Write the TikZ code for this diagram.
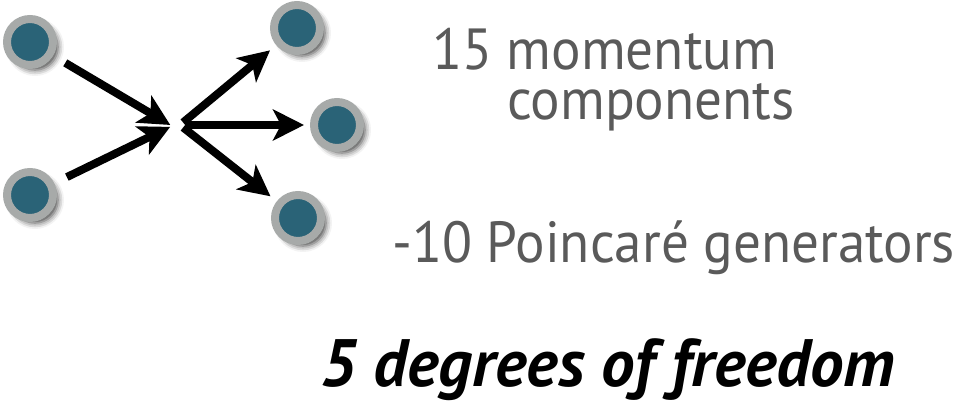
\documentclass[tikz,border=0pt]{standalone}
\usepackage{fontspec}
\setmainfont{PT Sans}
\newfontfamily\lblfont[FakeStretch=0.95]{PT Sans}
\usetikzlibrary{arrows.meta,shadows.blur}
\definecolor{teal1}{HTML}{2A6377}
\definecolor{ring}{HTML}{A7AAA9}
\definecolor{txt}{HTML}{5A5A5A}
\tikzset{
  particle/.style={circle, minimum size=46pt, inner sep=0pt, fill=teal1, draw=ring, line width=8pt,
    blur shadow={shadow xshift=5pt, shadow yshift=-5pt, shadow blur radius=6pt, shadow opacity=75}},
  leg/.style={line width=8pt, -{Stealth[length=31pt,width=31pt,inset=8pt]}},
  lbl/.style={text=txt, font=\lblfont\fontsize{58}{50}\selectfont, inner sep=0pt, anchor=base west},
}
\begin{document}
\begin{tikzpicture}[x=1pt,y=-1pt]
\useasboundingbox (0,0) rectangle (967,414);
\node[particle] (a) at (30,42) {};
\node[particle] (b) at (30,195) {};
\node[particle] (c) at (297,28) {};
\node[particle] (d) at (337,125) {};
\node[particle] (e) at (298,218) {};
\coordinate (vin) at (172,126);
\coordinate (vout) at (180,125);
\draw[leg, shorten <=14pt, shorten >=2pt] (a) -- (vin);
\draw[leg, shorten <=14pt, shorten >=2pt] (b) -- (vin);
\draw[leg, shorten <=4pt, shorten >=8pt] (vout) -- (c);
\draw[leg, shorten <=6pt, shorten >=6pt] (vout) -- (d);
\draw[leg, shorten <=4pt, shorten >=8pt] (vout) -- (e);
\node[lbl, align=left] (t1) at (432,120) {15 momentum\\\hspace*{75pt}components};
\node[lbl] (t3) at (392,262) {-10 Poincaré generators};
\node[inner sep=0pt, anchor=base west, font=\fontsize{67}{68}\selectfont\bfseries\itshape] (t4) at (320,386) {5 degrees of freedom};
\end{tikzpicture}
\end{document}
